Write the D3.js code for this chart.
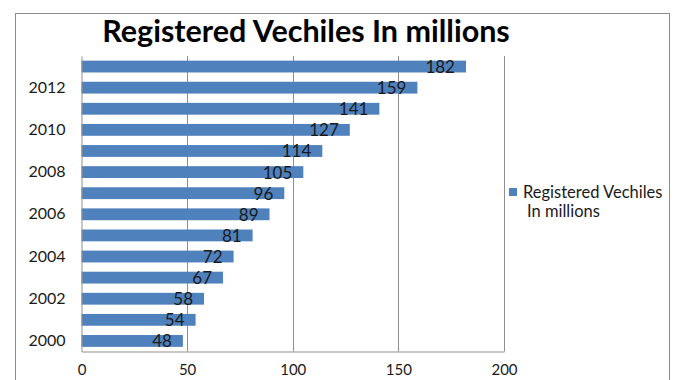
<!DOCTYPE html>
<html>
<head>
<meta charset="utf-8">
<script src="https://cdn.jsdelivr.net/npm/d3@7"></script>
<style>
  html, body { margin: 0; padding: 0; background: #fff; }
  svg { display: block; }
  text { font-family: Lato, "Open Sans", sans-serif; fill: #1a1a1a; }
</style>
</head>
<body>
<svg id="chart" width="676" height="380"></svg>
<script>
// Registered vehicles per year, in millions
const years = [2000, 2001, 2002, 2003, 2004, 2005, 2006, 2007, 2008, 2009, 2010, 2011, 2012, 2013];
const values = [48, 54, 58, 67, 72, 81, 89, 96, 105, 114, 127, 141, 159, 182];
const yearTicks = [2000, 2002, 2004, 2006, 2008, 2010, 2012];
const xTicks = [0, 50, 100, 150, 200];
const seriesName = "Registered Vechiles In millions";

const svg = d3.select("#chart");
const plot = { left: 81.5, right: 504, top: 56, bottom: 351.5 };

// outer chart frame
svg.append("rect")
  .attr("x", 15.5).attr("y", 13.5)
  .attr("width", 654).attr("height", 400)
  .attr("fill", "none").attr("stroke", "#8c8c8c").attr("stroke-width", 1);

// title
svg.append("text")
  .attr("x", 306).attr("y", 42)
  .attr("text-anchor", "middle")
  .style("font-weight", "bold").style("font-size", "30.5px")
  .style("fill", "#000")
  .text(seriesName);

const x = d3.scaleLinear().domain([0, 200]).range([plot.left, plot.right]);
const y = d3.scaleBand().domain(years.slice().reverse()).range([plot.top, plot.bottom]).paddingInner(0.44).paddingOuter(0.22);

// vertical gridlines
svg.append("g").selectAll("line").data(xTicks.filter(d => d > 0)).join("line")
  .attr("x1", d => Math.round(x(d)) + 0.5).attr("x2", d => Math.round(x(d)) + 0.5)
  .attr("y1", plot.top).attr("y2", plot.bottom)
  .attr("stroke", "#8f8f8f").attr("stroke-width", 1);

// bars
svg.append("g").selectAll("rect").data(years).join("rect")
  .attr("x", x(0))
  .attr("y", d => y(d))
  .attr("width", (d, i) => x(values[i]) - x(0))
  .attr("height", y.bandwidth())
  .attr("fill", "#4f81bd");

// value labels at the inner end of each bar
svg.append("g").selectAll("text").data(years).join("text")
  .attr("x", (d, i) => x(values[i]) - 11)
  .attr("y", d => y(d) + y.bandwidth() / 2 + 6.5)
  .attr("text-anchor", "end")
  .style("font-size", "17px")
  .text((d, i) => values[i]);

// axes
const yAxis = d3.axisLeft(y).tickValues(yearTicks).tickSize(0).tickPadding(16);
const gy = svg.append("g").attr("transform", `translate(${plot.left},0)`).call(yAxis);
gy.select(".domain").attr("stroke", "#8f8f8f");
gy.selectAll("text").style("font-size", "16px").style("font-family", "Lato, sans-serif").attr("fill", "#1a1a1a");

const xAxis = d3.axisBottom(x).tickValues(xTicks).tickSize(0).tickPadding(13);
const gx = svg.append("g").attr("transform", `translate(0,${plot.bottom})`).call(xAxis);
gx.select(".domain").attr("stroke", "#8f8f8f");
gx.selectAll("text").style("font-size", "15px").style("font-family", "Lato, sans-serif").attr("fill", "#1a1a1a");

// legend
const lg = svg.append("g").attr("transform", "translate(509,188)");
lg.append("rect").attr("width", 8).attr("height", 8).attr("fill", "#4f81bd");
lg.append("text").attr("x", 14).attr("y", 9.5).style("font-size", "16.5px").text("Registered Vechiles");
lg.append("text").attr("x", 18).attr("y", 28.5).style("font-size", "16.5px").text("In millions");
</script>
</body>
</html>
